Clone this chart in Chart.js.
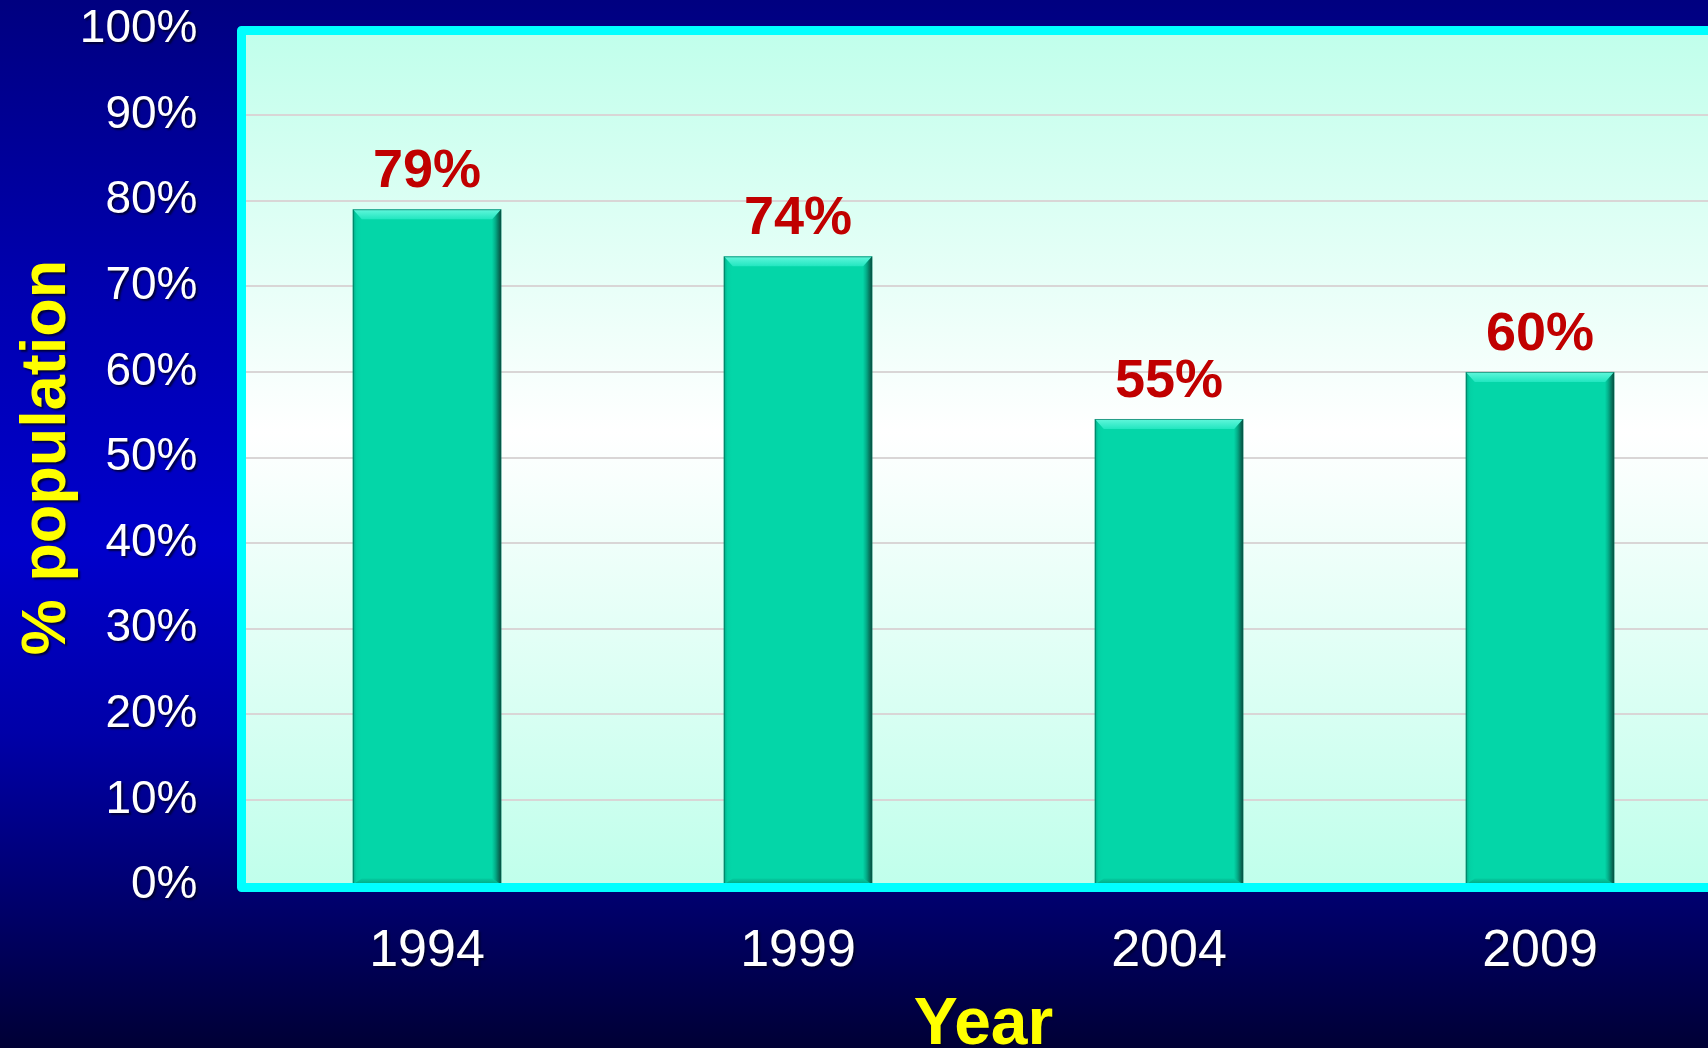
<!DOCTYPE html>
<html><head><meta charset="utf-8">
<script src="https://cdn.jsdelivr.net/npm/chart.js@4.4.1/dist/chart.umd.min.js"></script>
<style>
html,body{margin:0;padding:0;overflow:hidden;width:1708px;height:1048px;}
body{background:linear-gradient(to bottom,#000080 0%,#0000B0 28%,#0000CC 52%,#0000A8 70%,#000074 84%,#000035 100%);}
#wrap{position:absolute;left:0;top:0;width:1708px;height:1048px;overflow:hidden;}
canvas{display:block;}
</style></head><body>
<div id="wrap"><canvas id="c" width="1740" height="1070"></canvas></div>
<script>
// ---- data ----
const categories = ['1994', '1999', '2004', '2009'];
const populationPct = [79, 73.5, 54.5, 60];
const yMin = 0;
const yMax = 100;
const yStep = 10;
const yTitle = '% population';
const xTitle = 'Year';

const FONT = "'Liberation Sans', Arial, sans-serif";

function withShadow(ctx, fn) {
  ctx.save();
  ctx.shadowColor = 'rgba(0,0,40,0.85)';
  ctx.shadowOffsetX = 2;
  ctx.shadowOffsetY = 2;
  ctx.shadowBlur = 2;
  fn();
  ctx.restore();
}

const textShadowPlugin = {
  id: 'textShadow',
  beforeDraw(chart) {
    Object.values(chart.scales).forEach(s => {
      if (s._shadowWrapped) return;
      s._shadowWrapped = true;
      const dl = s.drawLabels.bind(s);
      const dt = s.drawTitle.bind(s);
      s.drawLabels = function (a) { withShadow(chart.ctx, () => dl(a)); };
      s.drawTitle = function () { withShadow(chart.ctx, () => dt()); };
    });
  }
};

const plotBgPlugin = {
  id: 'plotBg',
  beforeDraw(chart) {
    const {ctx, chartArea: a} = chart;
    const g = ctx.createLinearGradient(0, a.top, 0, a.bottom);
    g.addColorStop(0, '#C0FFEB');
    g.addColorStop(0.47, '#FFFFFF');
    g.addColorStop(1, '#C0FFEB');
    ctx.save();
    ctx.fillStyle = g;
    ctx.fillRect(a.left, a.top, a.right - a.left, a.bottom - a.top);
    ctx.restore();
  }
};

const bevelPlugin = {
  id: 'bevel',
  afterDatasetsDraw(chart) {
    const ctx = chart.ctx;
    const meta = chart.getDatasetMeta(0);
    meta.data.forEach(bar => {
      const {x, y, base, width} = bar.getProps(['x', 'y', 'base', 'width'], true);
      const l = x - width / 2, r = x + width / 2, t = y, b = base;
      const bw = 9, tw = 10, bb = 6;
      ctx.save();
      let g = ctx.createLinearGradient(0, t, 0, t + tw);
      g.addColorStop(0, '#62F7DC');
      g.addColorStop(1, '#22E6C0');
      ctx.fillStyle = g;
      ctx.beginPath();
      ctx.moveTo(l, t); ctx.lineTo(r, t); ctx.lineTo(r - bw, t + tw); ctx.lineTo(l + bw, t + tw); ctx.closePath();
      ctx.fill();
      g = ctx.createLinearGradient(l, 0, l + bw, 0);
      g.addColorStop(0, 'rgba(0,110,85,0.55)');
      g.addColorStop(0.4, 'rgba(0,170,135,0.15)');
      g.addColorStop(1, 'rgba(0,200,160,0)');
      ctx.fillStyle = g;
      ctx.beginPath();
      ctx.moveTo(l, t); ctx.lineTo(l + bw, t + tw); ctx.lineTo(l + bw, b - bb); ctx.lineTo(l, b); ctx.closePath();
      ctx.fill();
      g = ctx.createLinearGradient(r - bw, 0, r, 0);
      g.addColorStop(0, 'rgba(0,150,120,0.1)');
      g.addColorStop(0.6, 'rgba(5,100,80,0.7)');
      g.addColorStop(1, 'rgba(10,60,50,0.95)');
      ctx.fillStyle = g;
      ctx.beginPath();
      ctx.moveTo(r, t); ctx.lineTo(r, b); ctx.lineTo(r - bw, b - bb); ctx.lineTo(r - bw, t + tw); ctx.closePath();
      ctx.fill();
      g = ctx.createLinearGradient(0, b - bb, 0, b);
      g.addColorStop(0, 'rgba(0,140,110,0.15)');
      g.addColorStop(1, 'rgba(0,110,85,0.5)');
      ctx.fillStyle = g;
      ctx.beginPath();
      ctx.moveTo(l, b); ctx.lineTo(l + bw, b - bb); ctx.lineTo(r - bw, b - bb); ctx.lineTo(r, b); ctx.closePath();
      ctx.fill();
      ctx.strokeStyle = 'rgba(0,100,80,0.6)';
      ctx.lineWidth = 1;
      ctx.strokeRect(l + 0.5, t + 0.5, width - 1, b - t - 1);
      ctx.restore();
    });
  }
};

const labelPlugin = {
  id: 'valueLabels',
  afterDatasetsDraw(chart) {
    const ctx = chart.ctx;
    const meta = chart.getDatasetMeta(0);
    const data = chart.data.datasets[0].data;
    ctx.save();
    ctx.fillStyle = '#C00000';
    ctx.font = 'bold 54px ' + FONT;
    ctx.textAlign = 'center';
    ctx.textBaseline = 'alphabetic';
    meta.data.forEach((bar, i) => {
      ctx.fillText(Math.round(data[i]) + '%', bar.x, bar.y - 22);
    });
    ctx.restore();
  }
};

const borderPlugin = {
  id: 'plotBorder',
  afterDatasetsDraw(chart) {
    const {ctx, chartArea: a} = chart;
    ctx.save();
    ctx.strokeStyle = '#00FFFF';
    ctx.lineWidth = 9;
    ctx.lineJoin = 'round';
    ctx.strokeRect(a.left, a.top + 1, a.right - a.left, a.bottom - a.top + 1);
    ctx.restore();
  }
};

new Chart(document.getElementById('c'), {
  type: 'bar',
  data: {
    labels: categories,
    datasets: [{
      data: populationPct,
      backgroundColor: '#04D6A8',
      borderWidth: 0,
      categoryPercentage: 1.0,
      barPercentage: 0.4
    }]
  },
  options: {
    responsive: false,
    animation: false,
    devicePixelRatio: 1,
    layout: { padding: { left: 0, right: 14.5, top: 29.5, bottom: 0 } },
    plugins: { legend: { display: false }, tooltip: { enabled: false } },
    scales: {
      x: {
        grid: { display: false, drawTicks: false },
        border: { display: false },
        ticks: { color: '#FFFFFF', font: { family: FONT, size: 52 }, padding: 35 },
        title: {
          display: true, text: xTitle, color: '#FFFF00',
          font: { family: FONT, size: 66, weight: 'bold' },
          padding: { top: 4, bottom: 4.5 }
        },
        afterFit(s) { s.height = 184.5; s.paddingLeft = 0; s.paddingRight = 0; }
      },
      y: {
        min: yMin, max: yMax,
        grid: { color: '#D9D6D6', lineWidth: 2, drawTicks: false },
        border: { display: false },
        ticks: {
          stepSize: yStep, color: '#FFFFFF', padding: 44,
          font: { family: FONT, size: 46 },
          callback: v => v + '%'
        },
        title: {
          display: true, text: yTitle, color: '#FFFF00',
          font: { family: FONT, size: 63, weight: 'bold' },
          padding: { top: 10, bottom: 0 }
        },
        afterFit(s) { s.width = 241.5; s.paddingTop = 0; s.paddingBottom = 0; }
      }
    }
  },
  plugins: [plotBgPlugin, textShadowPlugin, bevelPlugin, borderPlugin, labelPlugin]
});
</script>
</body></html>
